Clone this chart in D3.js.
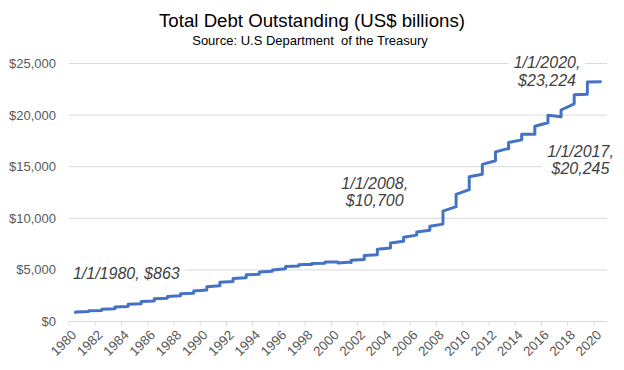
<!DOCTYPE html>
<html>
<head>
<meta charset="utf-8">
<script src="https://cdn.jsdelivr.net/npm/d3@7/dist/d3.min.js"></script>
<style>
  body { margin: 0; background: #fff; }
  text { font-family: "Liberation Sans", Arial, sans-serif; }
</style>
</head>
<body>
<div id="chart"></div>
<script>
// years on the axis, one row of quarterly values (US$ billions) per year
const years = [1980, 1981, 1982, 1983, 1984, 1985, 1986, 1987, 1988, 1989,
  1990, 1991, 1992, 1993, 1994, 1995, 1996, 1997, 1998, 1999,
  2000, 2001, 2002, 2003, 2004, 2005, 2006, 2007, 2008, 2009,
  2010, 2011, 2012, 2013, 2014, 2015, 2016, 2017, 2018, 2019, 2020];

const debt = [
  [863, 878, 889, 930], [964, 971, 995, 1030], [1062, 1080, 1142, 1197],
  [1244, 1319, 1377, 1411], [1463, 1518, 1573, 1663], [1710, 1775, 1823, 1945],
  [1986, 2060, 2125, 2214], [2246, 2310, 2350, 2432], [2487, 2548, 2602, 2684],
  [2740, 2800, 2857, 2953], [3053, 3143, 3233, 3364], [3465, 3538, 3665, 3802],
  [3881, 3985, 4064, 4177], [4231, 4352, 4411, 4536], [4575, 4646, 4693, 4801],
  [4864, 4951, 4974, 4989], [5118, 5161, 5225, 5323], [5380, 5376, 5413, 5502],
  [5542, 5548, 5526, 5614], [5651, 5639, 5656, 5776], [5773, 5686, 5674, 5662],
  [5773, 5727, 5807, 5943], [6006, 6126, 6228, 6405], [6460, 6670, 6783, 7001],
  [7131, 7274, 7379, 7596], [7777, 7836, 7933, 8170], [8371, 8420, 8507, 8680],
  [8849, 8867, 9008, 9229], [9437, 9492, 10025, 10700], [11127, 11545, 11910, 12311],
  [12773, 13202, 13562, 14025], [14270, 14343, 14790, 15223], [15582, 15856, 16066, 16433],
  [16771, 16738, 16738, 17352], [17601, 17632, 17824, 18141], [18152, 18152, 18151, 18922],
  [19264, 19381, 19573, 19977], [19846, 19845, 20245, 20493], [21090, 21195, 21516, 21974],
  [22028, 22023, 22719, 23201], [23224]
];

const xTickYears = [1980, 1982, 1984, 1986, 1988, 1990, 1992, 1994, 1996, 1998,
  2000, 2002, 2004, 2006, 2008, 2010, 2012, 2014, 2016, 2018, 2020];
const yTicks = [0, 5000, 10000, 15000, 20000, 25000];

const noteLines = [
  ["1/1/1980, $863"],
  ["1/1/2008,", "$10,700"],
  ["1/1/2020,", "$23,224"],
  ["1/1/2017,", "$20,245"]
];

const width = 624, height = 370;
const margin = {top: 63.5, right: 17, bottom: 48.5, left: 69};

const svg = d3.select('#chart')
  .append('svg')
  .attr('width', width)
  .attr('height', height);

const x = d3.scaleLinear()
  .domain([1980, 2021])
  .range([margin.left, width - margin.right]);

const y = d3.scaleLinear()
  .domain([0, 25000])
  .range([height - margin.bottom, margin.top]);

// titles
svg.append('text')
  .attr('x', 312).attr('y', 27)
  .attr('text-anchor', 'middle')
  .attr('font-size', 18.67)
  .attr('fill', '#000')
  .text('Total Debt Outstanding (US$ billions)');

svg.append('text')
  .attr('x', 310).attr('y', 45)
  .attr('text-anchor', 'middle')
  .attr('font-size', 13)
  .attr('fill', '#000')
  .attr('xml:space', 'preserve')
  .text('Source: U.S Department  of the Treasury');

// gridlines
svg.append('g')
  .selectAll('line')
  .data(yTicks)
  .join('line')
  .attr('x1', x(1980)).attr('x2', x(2021))
  .attr('y1', d => y(d)).attr('y2', d => y(d))
  .attr('stroke', '#d9d9d9')
  .attr('stroke-width', 1);

// y labels
svg.append('g')
  .selectAll('text')
  .data(yTicks)
  .join('text')
  .attr('x', 56)
  .attr('y', d => y(d))
  .attr('dy', '0.35em')
  .attr('text-anchor', 'end')
  .attr('font-size', 13)
  .attr('fill', '#595959')
  .text(d => '$' + d3.format(',')(d));

// x axis ticks and labels
const xAxis = svg.append('g');
xAxis.selectAll('line')
  .data(xTickYears)
  .join('line')
  .attr('x1', d => x(d)).attr('x2', d => x(d))
  .attr('y1', y(0)).attr('y2', y(0) + 4)
  .attr('stroke', '#d9d9d9');

xAxis.selectAll('text')
  .data(xTickYears)
  .join('text')
  .attr('transform', d => `translate(${x(d) + 5},${y(0) + 11}) rotate(-45)`)
  .attr('dy', '0.35em')
  .attr('text-anchor', 'end')
  .attr('font-size', 13.33)
  .attr('fill', '#595959')
  .text(d => d);

// the debt line: every quarter of a year sits on that year's position
const points = years.flatMap((yr, i) => debt[i].map(v => ({yr, v})));

svg.append('path')
  .datum(points)
  .attr('fill', 'none')
  .attr('stroke', '#4472C4')
  .attr('stroke-width', 3)
  .attr('stroke-linejoin', 'round')
  .attr('stroke-linecap', 'round')
  .attr('d', d3.line()
    .x(d => x(d.yr + 0.5))
    .y(d => y(d.v)));

// annotations
const notePos = [
  {x: x(1980.3), y: y(4120), anchor: 'start'},
  {x: x(2003.3), y: y(12850), anchor: 'middle'},
  {x: x(2016.43), y: y(24560), anchor: 'middle'},
  {x: x(2018.98), y: y(15940), anchor: 'middle'}
];

noteLines.forEach((lines, i) => {
  const p = notePos[i];
  const g = svg.append('g');
  const t = g.append('text')
    .attr('text-anchor', p.anchor)
    .attr('font-size', 16)
    .attr('font-style', 'italic')
    .attr('fill', '#404040');
  t.selectAll('tspan')
    .data(lines)
    .join('tspan')
    .attr('x', p.x)
    .attr('y', (d, j) => p.y + j * 17.5)
    .text(d => d);
  const b = t.node().getBBox();
  g.insert('rect', 'text')
    .attr('x', b.x - 5).attr('y', b.y - 2)
    .attr('width', b.width + 10).attr('height', b.height + 4)
    .attr('fill', '#fff');
});
</script>
</body>
</html>
